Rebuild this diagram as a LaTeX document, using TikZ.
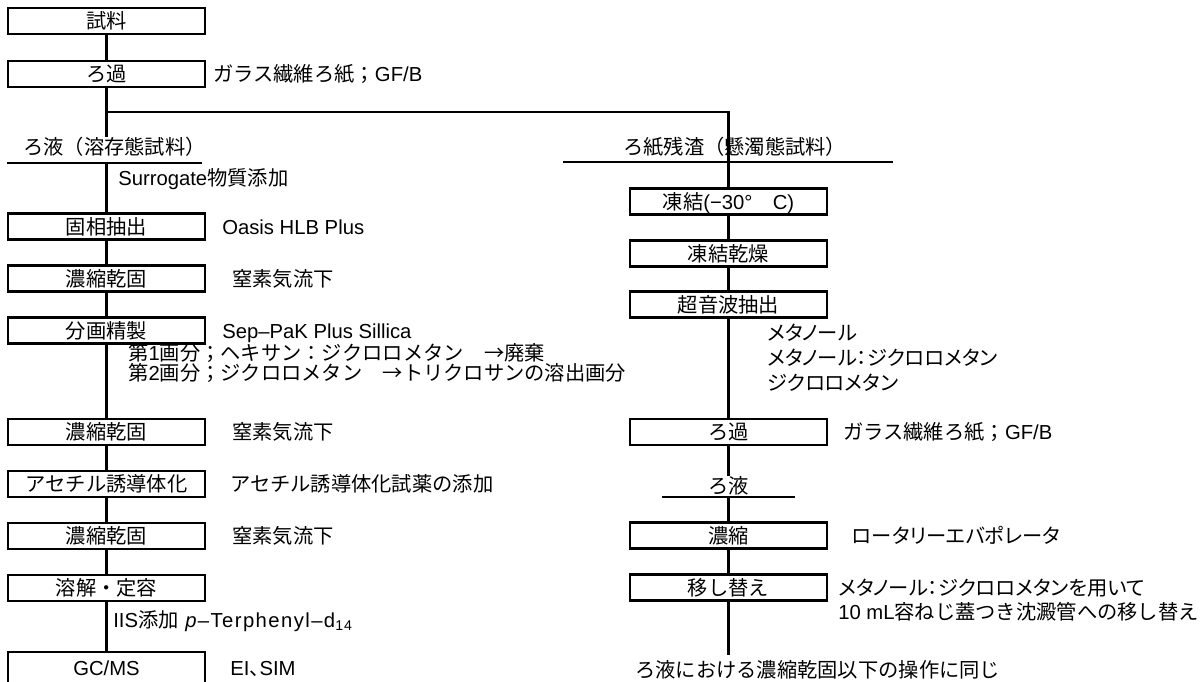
\documentclass[tikz,border=0pt]{standalone}
\usepackage{fontspec}
\setmainfont{Liberation Sans}
\newfontfamily\cjkfont{Noto Sans CJK JP}
\newfontfamily\cjkpfont[RawFeature=+palt]{Noto Sans CJK JP}
\newfontfamily\latfont{Liberation Sans}
\let\cjkcur\cjkfont
\newXeTeXintercharclass\CJKcls
\newcount\cjkcnt
\def\setcjkrange#1#2{\cjkcnt=#1 \loop\ifnum\cjkcnt<#2 \XeTeXcharclass\cjkcnt=\CJKcls \advance\cjkcnt by 1 \repeat}
\setcjkrange{"2190}{"2200}
\setcjkrange{"3000}{"3100}
\setcjkrange{"3400}{"4DC0}
\setcjkrange{"4E00}{"A000}
\setcjkrange{"F900}{"FB00}
\setcjkrange{"FF00}{"FF61}
\XeTeXinterchartoks 0 \CJKcls = {\cjkcur}
\XeTeXinterchartoks 4095 \CJKcls = {\cjkcur}
\XeTeXinterchartoks \CJKcls 0 = {\latfont}
\XeTeXinterchartoks 4095 0 = {\latfont}
\XeTeXinterchartokenstate=1
\begin{document}
\begin{tikzpicture}[x=0.75pt,y=-0.75pt,
  every node/.style={font=\fontsize{15.2pt}{18pt}\selectfont},
  box/.style={draw, line width=1.6pt, minimum width=147.75pt, minimum height=19.5pt, inner sep=0pt, text height=13.4pt, text depth=1.8pt},
  lbl/.style={anchor=west, inner sep=0pt, text height=13.4pt, text depth=1.8pt},
  plbl/.style={lbl, font=\fontsize{15.2pt}{18pt}\selectfont\let\cjkcur\cjkpfont},
  ln/.style={line width=1.6pt}]
\useasboundingbox (0,0) rectangle (1201,681);

% left column
\node[box] (L1) at (106.5,21) {試料};
\node[box] (L2) at (106.5,74) {ろ過};
\node[lbl] (tL2) at (213,74) {ガラス繊維ろ紙；GF/B};
\coordinate (brL) at (106.5,112);
\coordinate (brR) at (728.5,112);
\node[lbl] (dis) at (23,147) {ろ液（溶存態試料）};
\coordinate (uL1) at (7,163);
\coordinate (uL2) at (202,163);
\node[lbl] (sur) at (118,178) {Surrogate物質添加};
\node[box] (L3) at (106.5,226.5) {固相抽出};
\node[lbl] (tL3) at (222,226.5) {Oasis HLB Plus};
\node[box] (L4) at (106.5,278.5) {濃縮乾固};
\node[lbl] (tL4) at (232,278.5) {窒素気流下};
\node[box] (L5) at (106.5,330.5) {分画精製};
\node[lbl] (tL5) at (222,330.5) {Sep–PaK Plus Sillica};
\node[lbl] (fr1) at (128,353) {第1画分；ヘキサン：ジクロロメタン　→廃棄};
\node[lbl] (fr2) at (128,373) {第2画分；ジクロロメタン　→トリクロサンの溶出画分};
\node[box] (L6) at (106.5,432) {濃縮乾固};
\node[lbl] (tL6) at (232,432) {窒素気流下};
\node[box] (L7) at (106.5,484) {アセチル誘導体化};
\node[lbl] (tL7) at (230,484) {アセチル誘導体化試薬の添加};
\node[box] (L8) at (106.5,536) {濃縮乾固};
\node[lbl] (tL8) at (232,536) {窒素気流下};
\node[box] (L9) at (106.5,588) {溶解・定容};
\node[lbl] (iis) at (113,620) {IIS添加};
\node[lbl, font={\fontsize{15.2pt}{18pt}\latfont\addfontfeature{LetterSpace=7}\XeTeXinterchartokenstate=0 }] (ter) at (185,620) {\textit{p}–Terphenyl–d\textsubscript{14}};
\node[box, minimum height=24pt] (L10) at (106.5,668) {GC/MS};
\node[plbl] (tL10) at (230,668) {EI、SIM};

% right column
\node[lbl] (sus) at (623,147) {ろ紙残渣（懸濁態試料）};
\coordinate (uR1) at (563,162);
\coordinate (uR2) at (893,162);
\node[box] (R1) at (728.5,201.5) {凍結(−30°　C)};
\node[box] (R2) at (728.5,253.5) {凍結乾燥};
\node[box] (R3) at (728.5,304.5) {超音波抽出};
\node[plbl] (m1) at (767,333) {メタノール};
\node[plbl] (m2) at (767,358) {メタノール：ジクロロメタン};
\node[plbl] (m3) at (767,383) {ジクロロメタン};
\node[box] (R4) at (728.5,432) {ろ過};
\node[lbl] (tR4) at (843,432) {ガラス繊維ろ紙；GF/B};
\node[lbl, anchor=center] (fil) at (728.5,486) {ろ液};
\coordinate (uR3) at (662,497);
\coordinate (uR4) at (795,497);
\node[box] (R5) at (728.5,535.5) {濃縮};
\node[plbl] (tR5) at (852,535.5) {ロータリーエバポレータ};
\node[box] (R6) at (728.5,587.5) {移し替え};
\node[plbl] (tR6a) at (838,587.5) {メタノール：ジクロロメタンを用いて};
\node[lbl] (tR6b) at (838,612) {10 mL容ねじ蓋つき沈澱管への移し替え};
\coordinate (endR) at (728.5,655);
\node[lbl] (same) at (635,670) {ろ液における濃縮乾固以下の操作に同じ};

% connectors
\draw[ln] (L1) -- (L2);
\draw[ln] (L2) -- (L2 |- dis.north);
\draw[ln] (brL) -- (brR) -- (brR |- uR1);
\draw[ln] (uL1) -- (uL2);
\draw[ln] (uL1 -| L3) -- (L3);
\draw[ln] (L3) -- (L4);
\draw[ln] (L4) -- (L5);
\draw[ln] (L5) -- (L6);
\draw[ln] (L6) -- (L7);
\draw[ln] (L7) -- (L8);
\draw[ln] (L8) -- (L9);
\draw[ln] (L9) -- (L10);
\draw[ln] (uR1) -- (uR2);
\draw[ln] (uR1 -| R1) -- (R1);
\draw[ln] (R1) -- (R2);
\draw[ln] (R2) -- (R3);
\draw[ln] (R3) -- (R4);
\draw[ln] (R4) -- (R4 |- fil.north);
\draw[ln] (uR3) -- (uR4);
\draw[ln] (uR3 -| R5) -- (R5);
\draw[ln] (R5) -- (R6);
\draw[ln] (R6) -- (endR);
\end{tikzpicture}
\end{document}
